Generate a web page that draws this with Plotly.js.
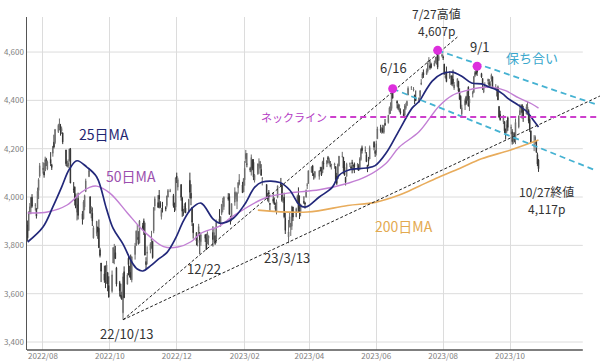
<!DOCTYPE html>
<html><head><meta charset="utf-8">
<script src="https://cdn.plot.ly/plotly-3.0.1.min.js"></script>
<style>html,body{margin:0;padding:0;background:#fff}#chart{width:600px;height:364px}</style>
</head><body><div id="chart"></div>
<script>
// ---------- DATA ----------
const firstDay = '2022-07-18', lastDay = '2023-10-27';
const holidays = ['2022-09-05','2022-11-24','2022-12-26','2023-01-02','2023-01-16','2023-02-20','2023-04-07','2023-05-29','2023-06-19','2023-07-04','2023-09-04'];

const open = [
3884,3861,3935,3955,3999,3965,3953,3951,4027,4087,
4113,4105,4108,4155,4116,4156,4134,4181,4227,4225,4270,4290,4280,4273,4266,4195,4134,4127,4154,4198,4034,4041,4000,
3937,3995,3931,3910,3959,4022,4084,4000,3941,3933,3831,3849,3876,3871,3782,3727,3682,3687,3652,3688,3634,
3610,3727,3748,3770,3707,3646,3595,3590,3521,3691,3639,3747,3697,3689,3657,3762,3799,3825,3835,3809,3881,
3901,3853,3733,3767,3780,3818,3817,3860,3963,3977,4007,3977,3919,3966,3957,3965,4000,4023,4006,3964,3958,
4087,4041,4052,3996,3934,3947,3954,3940,4069,4016,3958,3890,3853,3811,3840,3853,3815,3844,3830,3806,3829,
3853,3840,3840,3823,3910,3888,3932,3977,3960,3999,4002,3911,3909,3979,4001,3982,4038,4053,4050,4021,
4071,4158,4136,4119,4106,4153,4144,4069,4096,4127,4120,4114,4077,4052,4002,4019,3974,3992,3978,
3964,3938,3999,4056,4049,3988,3999,3912,3835,3894,3876,3879,3959,3918,3975,4003,3960,3939,3982,3975,3999,4047,4056,
4102,4129,4094,4082,4085,4111,4121,4100,4140,4137,4164,4140,4131,4132,4132,4126,4087,4075,4129,
4166,4165,4123,4082,4085,4136,4124,4143,4132,4138,4126,4127,4122,4155,4204,4191,4176,4132,4155,4157,4227,4191,
4184,4241,4283,4271,4285,4268,4305,4308,4345,4366,4366,4441,4396,4380,4356,4354,4345,4338,4367,4378,4422,
4454,4443,4422,4405,4395,4416,4467,4492,4515,4508,4521,4564,4544,4550,4543,4556,4558,4598,4565,4584,
4579,4550,4494,4514,4491,4498,4502,4488,4451,4458,4479,4433,4417,4344,4380,4415,4400,4455,4389,4426,4433,4500,4518,
4531,4511,4491,4434,4452,4480,4474,4462,4488,4498,4445,4445,4453,4375,4342,4311,4312,4282,4270,4328,
4284,4270,4234,4260,4235,4290,4339,4367,4380,4360,4343,4346,4358,4322,4273,4210,4236,4232,4176,4153];

const high = [
3903,3941,3975,3999,4012,3975,3954,4039,4078,4141,
4145,4141,4167,4162,4151,4186,4138,4211,4258,4280,4302,4325,4302,4292,4266,4195,4150,4156,4200,4203,4062,4044,4015,
3970,4018,3942,3987,4010,4076,4120,4004,3962,3957,3881,3900,3877,3907,3790,3727,3716,3717,3736,3688,3672,
3696,3792,3806,3798,3711,3653,3641,3608,3685,3713,3685,3762,3716,3762,3754,3810,3862,3886,3859,3905,3893,
3911,3894,3751,3796,3813,3860,3818,3959,4002,4008,4029,3983,3955,3980,3962,4006,4033,4034,4013,3977,4080,
4101,4080,4052,4001,3951,3974,3978,3991,4101,4053,3958,3890,3854,3840,3889,3853,3845,3846,3848,3858,3840,
3879,3873,3840,3907,3950,3920,3970,3997,4003,4016,4015,3922,3973,4040,4023,4020,4061,4095,4063,4077,
4149,4195,4182,4125,4176,4157,4157,4095,4139,4160,4148,4136,4082,4052,4017,4029,3974,4018,3998,
3976,3990,4048,4079,4051,4001,4018,3935,3905,3937,3892,3964,3959,3956,4010,4040,4007,3972,4003,3980,4031,4058,4110,
4127,4133,4100,4108,4110,4125,4125,4150,4164,4152,4170,4163,4149,4138,4142,4127,4100,4139,4170,
4187,4165,4149,4083,4142,4143,4131,4154,4133,4143,4141,4136,4165,4202,4213,4210,4186,4133,4166,4213,4231,4195,
4233,4291,4299,4289,4299,4298,4323,4340,4375,4392,4439,4448,4400,4387,4382,4367,4363,4385,4390,4399,4458,
4457,4455,4423,4441,4412,4443,4488,4517,4528,4532,4563,4579,4565,4556,4564,4580,4582,4607,4590,4595,
4585,4551,4520,4540,4520,4503,4503,4527,4476,4490,4481,4450,4421,4382,4408,4419,4441,4458,4418,4440,4501,4522,4532,
4541,4514,4491,4458,4475,4490,4488,4479,4511,4498,4467,4452,4461,4376,4357,4338,4314,4282,4318,4333,
4300,4281,4268,4268,4325,4336,4385,4379,4385,4377,4384,4394,4363,4339,4276,4256,4255,4233,4184,4157];

const low = [
3818,3860,3929,3929,3956,3944,3911,3951,3992,4080,
4097,4080,4108,4128,4111,4128,4112,4167,4201,4219,4265,4277,4254,4261,4219,4129,4124,4120,4147,4057,4017,3965,3954,
3903,3907,3886,3907,3945,4022,4084,3932,3912,3880,3828,3838,3827,3789,3750,3648,3645,3623,3641,3610,3584,
3604,3727,3722,3744,3630,3588,3580,3574,3492,3583,3639,3676,3667,3657,3647,3741,3799,3824,3803,3809,3863,
3843,3758,3698,3721,3767,3786,3745,3850,3944,3956,3953,3954,3907,3936,3941,3957,3999,4020,3956,3938,3944,
4058,4027,3985,3918,3922,3936,3934,3935,3994,3966,3880,3828,3800,3796,3840,3764,3798,3814,3781,3806,3801,
3795,3815,3802,3809,3890,3877,3925,3937,3947,3985,3926,3886,3900,3964,3990,3950,4014,4048,4017,4021,
4047,4141,4123,4103,4089,4111,4070,4060,4092,4096,4114,4088,4048,3995,3982,3977,3943,3974,3968,
3940,3928,3995,4044,3980,3975,3912,3847,3809,3874,3839,3864,3901,3917,3972,3936,3909,3920,3971,3952,3999,4033,4056,
4102,4087,4072,4077,4072,4106,4087,4100,4114,4124,4141,4134,4123,4114,4117,4071,4050,4075,4127,
4164,4096,4088,4048,4085,4124,4117,4098,4110,4099,4111,4109,4113,4150,4180,4180,4146,4103,4129,4157,4193,4166,
4172,4241,4266,4262,4264,4262,4294,4304,4342,4344,4357,4407,4367,4360,4352,4341,4328,4336,4361,4378,4422,
4443,4437,4385,4398,4390,4409,4463,4490,4493,4505,4515,4557,4527,4532,4541,4553,4548,4529,4564,4578,
4567,4505,4490,4475,4491,4464,4461,4458,4443,4454,4433,4403,4364,4336,4360,4382,4400,4375,4356,4412,4431,4496,4507,
4501,4493,4443,4430,4451,4467,4460,4453,4478,4447,4442,4416,4402,4329,4316,4302,4265,4238,4264,4274,
4260,4217,4220,4226,4219,4284,4339,4346,4325,4311,4343,4339,4305,4269,4224,4190,4219,4182,4128,4104];

const close = [
3831,3937,3960,3999,3962,3967,3921,4024,4072,4130,
4119,4091,4155,4152,4145,4140,4122,4210,4207,4280,4297,4305,4274,4284,4228,4138,4129,4141,4199,4058,4031,3986,3955,
3967,3924,3908,3980,4006,4067,4110,3933,3946,3901,3873,3900,3856,3790,3758,3693,3655,3647,3719,3640,3586,
3678,3791,3783,3745,3640,3612,3589,3577,3670,3583,3678,3720,3695,3666,3753,3797,3859,3831,3807,3901,3872,
3856,3760,3720,3771,3807,3828,3749,3956,3993,3957,3992,3959,3947,3965,3950,4004,4027,4026,3964,3958,4080,
4077,4072,3999,3941,3934,3964,3934,3991,4020,3995,3896,3852,3818,3822,3878,3822,3845,3829,3783,3849,3840,
3824,3853,3808,3895,3892,3919,3970,3983,3999,3991,3929,3899,3973,4020,4017,4016,4060,4071,4018,4077,
4119,4180,4136,4111,4164,4118,4082,4090,4137,4136,4148,4090,4079,3997,3991,4012,3970,3982,3970,
3951,3981,4046,4048,3986,3992,3918,3862,3856,3919,3892,3960,3917,3952,4003,3937,3949,3971,3978,3971,4028,4051,4109,
4125,4101,4090,4105,4109,4109,4092,4146,4138,4151,4155,4155,4130,4134,4137,4072,4056,4135,4169,
4168,4120,4091,4061,4136,4138,4119,4138,4131,4124,4136,4110,4159,4198,4192,4193,4146,4115,4151,4205,4206,4180,
4221,4282,4274,4284,4268,4294,4299,4339,4369,4373,4426,4410,4389,4366,4382,4348,4329,4378,4377,4396,4450,
4456,4447,4412,4399,4410,4439,4472,4510,4505,4523,4555,4566,4535,4536,4555,4567,4567,4537,4582,4589,
4577,4513,4502,4478,4518,4499,4468,4469,4464,4490,4438,4404,4370,4370,4400,4388,4436,4376,4406,4433,4498,4515,4508,
4516,4497,4465,4451,4457,4487,4462,4467,4505,4450,4454,4444,4402,4330,4320,4337,4274,4275,4300,4288,
4288,4229,4264,4258,4309,4336,4358,4377,4350,4328,4374,4373,4315,4278,4224,4217,4248,4187,4137,4117];

// moving averages
const ma25Dates = ['2022-07-18','2022-08-01','2022-08-10','2022-08-18','2022-08-25','2022-09-01','2022-09-10','2022-09-19','2022-09-28','2022-10-04','2022-10-13','2022-10-21','2022-10-26','2022-10-31','2022-11-07','2022-11-14','2022-11-22','2022-11-30','2022-12-07','2022-12-14','2022-12-23','2023-01-03','2023-01-09','2023-01-21','2023-02-01','2023-02-10','2023-02-17','2023-03-05','2023-03-14','2023-03-23','2023-03-29','2023-04-10','2023-04-22','2023-04-28','2023-05-07','2023-05-23','2023-05-31','2023-06-10','2023-06-22','2023-07-04','2023-07-10','2023-07-16','2023-07-22','2023-07-31','2023-08-09','2023-08-18','2023-08-27','2023-09-05','2023-09-12','2023-09-18','2023-09-24','2023-09-30','2023-10-07','2023-10-16','2023-10-22','2023-10-27'];
const ma25 = [3814,3876,3959,4041,4115,4150,4124,4083,3950,3870,3805,3731,3702,3694,3715,3742,3770,3830,3900,3950,3975,3910,3892,3910,3970,4040,4062,4060,4029,3967,3959,4000,4041,4090,4112,4120,4130,4182,4277,4370,4395,4440,4480,4510,4517,4500,4472,4468,4455,4445,4428,4405,4385,4355,4320,4290];

const ma50Dates = ['2022-07-18','2022-08-05','2022-08-23','2022-09-05','2022-09-13','2022-09-19','2022-10-01','2022-10-17','2022-10-29','2022-11-07','2022-11-19','2022-12-02','2022-12-14','2022-12-23','2023-01-09','2023-01-21','2023-02-19','2023-03-14','2023-04-10','2023-05-07','2023-05-23','2023-06-10','2023-06-22','2023-07-10','2023-07-28','2023-08-09','2023-08-22','2023-09-03','2023-09-15','2023-09-27','2023-10-09','2023-10-21','2023-10-27'];
const ma50 = [3934,3938,3967,4020,4041,4045,4016,3934,3872,3834,3795,3793,3815,3850,3880,3920,3995,4017,4030,4058,4085,4140,4207,4270,4375,4420,4440,4452,4455,4440,4410,4385,4368];

const ma200Dates = ['2023-02-13','2023-03-30','2023-05-06','2023-05-31','2023-06-22','2023-07-10','2023-07-28','2023-08-16','2023-09-05','2023-10-01','2023-10-27'];
const ma200 = [3946,3938,3965,3978,4008,4045,4082,4118,4158,4194,4236];

// marked highs
const peakDates = ['2023-06-16','2023-07-27','2023-09-01'];
const peakValues = [4448,4607,4541];

// drawn lines (end points)
const trendAX = ['2022-10-13','2023-08-14'], trendAY = [3492,4662];
const trendBX = ['2022-10-13','2023-12-22'], trendBY = [3492,4418];
const chanUpX = ['2023-07-27','2023-12-20'], chanUpY = [4607,4381];
const chanLoX = ['2023-06-16','2023-12-17'], chanLoY = [4448,4112];
const neckX = ['2023-04-20','2023-12-22'], neckY = [4331,4331];

// axes
const xRange = ['2022-07-17 10:00','2023-12-22 02:00'];
const yRange = [3367,4745];
const xTickVals = ['2022-08-01','2022-10-01','2022-12-01','2023-02-01','2023-04-01','2023-06-01','2023-08-01','2023-10-01'];
const yTickVals = [3400,3600,3800,4000,4200,4400,4600];

// text labels (dy = vertical shift in px)
const labels = [
  {t:'25日MA', x:'2022-09-26', y:4261, c:'#1f2672', s:14, dy:0},
  {t:'50日MA', x:'2022-10-20', y:4087, c:'#9b4fae', s:14, dy:0},
  {t:'200日MA', x:'2023-06-26', y:3880, c:'#e3a94f', s:14, dy:0},
  {t:'ネックライン', x:'2023-03-18', y:4331, c:'#b43cc4', s:11, dy:0},
  {t:'保ち合い', x:'2023-10-21', y:4579, c:'#3aa7cc', s:13, dy:0},
  {t:'6/16', x:'2023-06-17', y:4538, c:'#333', s:13, dy:0},
  {t:'7/27高値', x:'2023-07-26', y:4690, c:'#333', s:12, dy:17},
  {t:'4,607p', x:'2023-07-26', y:4690, c:'#333', s:12, dy:0},
  {t:'9/1', x:'2023-09-04', y:4621, c:'#333', s:13, dy:0},
  {t:'10/27終値', x:'2023-11-03', y:4022, c:'#333', s:12, dy:0},
  {t:'4,117p', x:'2023-11-03', y:4022, c:'#333', s:12, dy:-17},
  {t:'12/22', x:'2022-12-26', y:3706, c:'#333', s:13, dy:0},
  {t:'23/3/13', x:'2023-03-12', y:3748, c:'#333', s:13, dy:0},
  {t:'22/10/13', x:'2022-10-16', y:3437, c:'#333', s:13, dy:0}
];

// ---------- BUILD ----------
function tradingDays(start, end, hol) {
  const out = [], hs = new Set(hol);
  let d = new Date(start + 'T00:00:00Z');
  const e = new Date(end + 'T00:00:00Z');
  while (d <= e) {
    const wd = d.getUTCDay(), s = d.toISOString().slice(0,10);
    if (wd !== 0 && wd !== 6 && !hs.has(s)) out.push(s);
    d = new Date(d.getTime() + 86400000);
  }
  return out;
}
const dates = tradingDays(firstDay, lastDay, holidays);
const FONT = '"Noto Sans CJK JP", "Noto Sans", sans-serif';

const traces = [
  {type:'candlestick', x:dates, open:open, high:high, low:low, close:close,
   increasing:{line:{color:'#6a6a6a', width:1}, fillcolor:'#d4d4d4'},
   decreasing:{line:{color:'#333333', width:1}, fillcolor:'#3a3a3a'},
   whiskerwidth:0, hoverinfo:'skip', showlegend:false},
  {type:'scatter', mode:'lines', x:ma200Dates, y:ma200, line:{color:'#e8ac5c', width:1.6, shape:'spline'}, hoverinfo:'skip'},
  {type:'scatter', mode:'lines', x:ma50Dates, y:ma50, line:{color:'#c27fd4', width:1.4, shape:'spline'}, hoverinfo:'skip'},
  {type:'scatter', mode:'lines', x:ma25Dates, y:ma25, line:{color:'#22287a', width:1.7, shape:'spline'}, hoverinfo:'skip'},
  {type:'scatter', mode:'lines', x:trendAX, y:trendAY, line:{color:'#222', width:1, dash:'3px,2px'}, hoverinfo:'skip'},
  {type:'scatter', mode:'lines', x:trendBX, y:trendBY, line:{color:'#222', width:1, dash:'3px,2px'}, hoverinfo:'skip'},
  {type:'scatter', mode:'lines', x:chanUpX, y:chanUpY, line:{color:'#45b2d2', width:1.8, dash:'6px,4px'}, hoverinfo:'skip'},
  {type:'scatter', mode:'lines', x:chanLoX, y:chanLoY, line:{color:'#45b2d2', width:1.8, dash:'6px,4px'}, hoverinfo:'skip'},
  {type:'scatter', mode:'lines', x:neckX, y:neckY, line:{color:'#cc3fcc', width:2, dash:'6px,4px'}, hoverinfo:'skip'},
  {type:'scatter', mode:'markers', x:peakDates, y:peakValues, marker:{color:'#dd2fdd', size:9}, cliponaxis:false, hoverinfo:'skip'}
];

const shapes = yTickVals.map(v => ({type:'line', layer:'below', xref:'paper', yref:'y', x0:0, x1:0.970, y0:v, y1:v, line:{color:'#dcdcdc', width:1}}));
shapes.push({type:'line', xref:'paper', yref:'paper', x0:0, x1:0.970, y0:0, y1:0, line:{color:'#555', width:1.5}});

const annotations = labels.map(l => ({text:l.t, x:l.x, y:l.y, yshift:l.dy, xref:'x', yref:'y', showarrow:false,
  xanchor:'center', yanchor:'middle', align:'center', borderpad:0, font:{family:FONT, size:l.s, color:l.c}}));

const layout = {
  width:600, height:364, margin:{l:27, r:0, t:17, b:14},
  paper_bgcolor:'#fff', plot_bgcolor:'#fff', showlegend:false,
  font:{family:FONT},
  xaxis:{type:'date', range:xRange, tickmode:'array', tickvals:xTickVals,
    ticktext:xTickVals.map(v => v.slice(0,4) + '/' + v.slice(5,7)),
    showgrid:true, gridcolor:'#dcdcdc', gridwidth:1, zeroline:false, showline:false, ticks:'',
    tickfont:{size:8, color:'#808080', family:FONT}, rangeslider:{visible:false}, fixedrange:true},
  yaxis:{range:yRange, tickmode:'array', tickvals:yTickVals, ticktext:yTickVals.map(v => v.toLocaleString('en-US')),
    showgrid:false, zeroline:false, showline:true, linecolor:'#555', linewidth:1.5, ticks:'',
    tickfont:{size:8, color:'#808080', family:FONT}, fixedrange:true},
  shapes:shapes, annotations:annotations
};

Plotly.newPlot('chart', traces, layout, {displayModeBar:false, staticPlot:true});
</script></body></html>
